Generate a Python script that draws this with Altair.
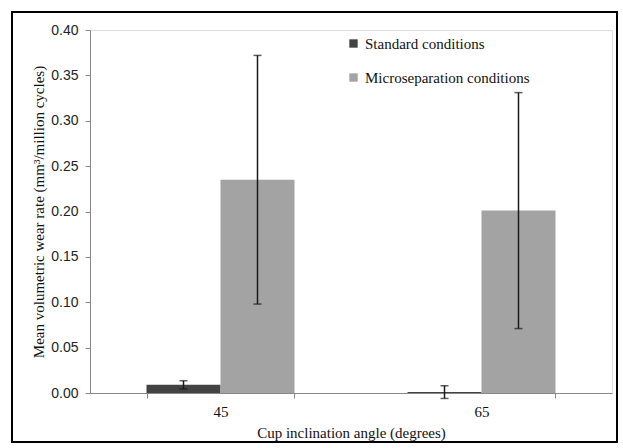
import altair as alt
import pandas as pd

angles = ["45", "45", "65", "65"]
conditions = ["Standard conditions", "Microseparation conditions",
              "Standard conditions", "Microseparation conditions"]
means = [0.009, 0.235, 0.001, 0.201]
errs = [0.0045, 0.137, 0.007, 0.130]

series = ["Standard conditions", "Microseparation conditions"]
colors = ["#434343", "#a3a3a3"]

df = pd.DataFrame({"angle": angles, "cond": conditions, "mean": means, "err": errs})
df["lo"] = df["mean"] - df["err"]
df["hi"] = df["mean"] + df["err"]

SERIF = "serif"
SANS = "Liberation Sans"

x = alt.X("angle:N", title="Cup inclination  angle  (degrees)",
          scale=alt.Scale(paddingInner=0.433, paddingOuter=0.2165),
          axis=alt.Axis(labelAngle=0, labelFont=SERIF, labelFontSize=15, labelColor="#111",
                        titleFont=SERIF, titleFontSize=15, titleFontWeight="normal", titleColor="#111",
                        tickBand="extent", tickSize=5, tickColor="#888", domainColor="#888",
                        labelPadding=6, titlePadding=6))
xo = alt.XOffset("cond:N", sort=series, scale=alt.Scale(paddingInner=0, paddingOuter=0))

color = alt.Color("cond:N", sort=series,
                  scale=alt.Scale(domain=series, range=colors),
                  legend=alt.Legend(title=None, orient="none", legendX=256, legendY=6,
                                    symbolType="square", symbolSize=70, symbolStrokeWidth=0,
                                    labelFont=SERIF, labelFontSize=15, labelColor="#111",
                                    labelLimit=400,
                                    rowPadding=18, padding=0, labelOffset=4))

y = alt.Y("mean:Q", title="Mean volumetric  wear rate (mm³/million  cycles)",
          scale=alt.Scale(domain=[0, 0.4], nice=False),
          axis=alt.Axis(values=[0, 0.05, 0.1, 0.15, 0.2, 0.25, 0.3, 0.35, 0.4], format=".2f",
                        grid=False, tickSize=5, tickColor="#888", domainColor="#888",
                        labelFont=SANS, labelFontSize=14, labelColor="#222", labelPadding=7,
                        titleFont=SERIF, titleFontSize=15, titleFontWeight="normal", titleColor="#111",
                        titlePadding=4))

base = alt.Chart(df)
bars = base.mark_bar().encode(x=x, xOffset=xo, y=y, color=color)
rules = base.mark_rule(color="#1a1a1a", strokeWidth=1.5).encode(
    x=x, xOffset=xo, y=alt.Y("lo:Q"), y2="hi:Q")
cap_lo = base.mark_tick(color="#1a1a1a", thickness=1.5, size=8, orient="horizontal").encode(
    x=x, xOffset=xo, y=alt.Y("lo:Q"))
cap_hi = base.mark_tick(color="#1a1a1a", thickness=1.5, size=8, orient="horizontal").encode(
    x=x, xOffset=xo, y=alt.Y("hi:Q"))

border = alt.Chart(alt.Data(values=[{"a": 1}])).mark_rect(
    filled=False, stroke="#000", strokeWidth=2).encode(
    x=alt.value(-78), x2=alt.value(527), y=alt.value(-18), y2=alt.value(412))

chart = alt.layer(bars, rules, cap_lo, cap_hi, border).properties(
    width=522, height=363,
    autosize=alt.AutoSizeParams(type="none"),
    padding={"left": 90, "top": 30, "right": 11, "bottom": 55},
).configure_view(stroke=None).configure(background="white")

chart.save("out.html", embed_options={"renderer": "svg", "actions": False})
